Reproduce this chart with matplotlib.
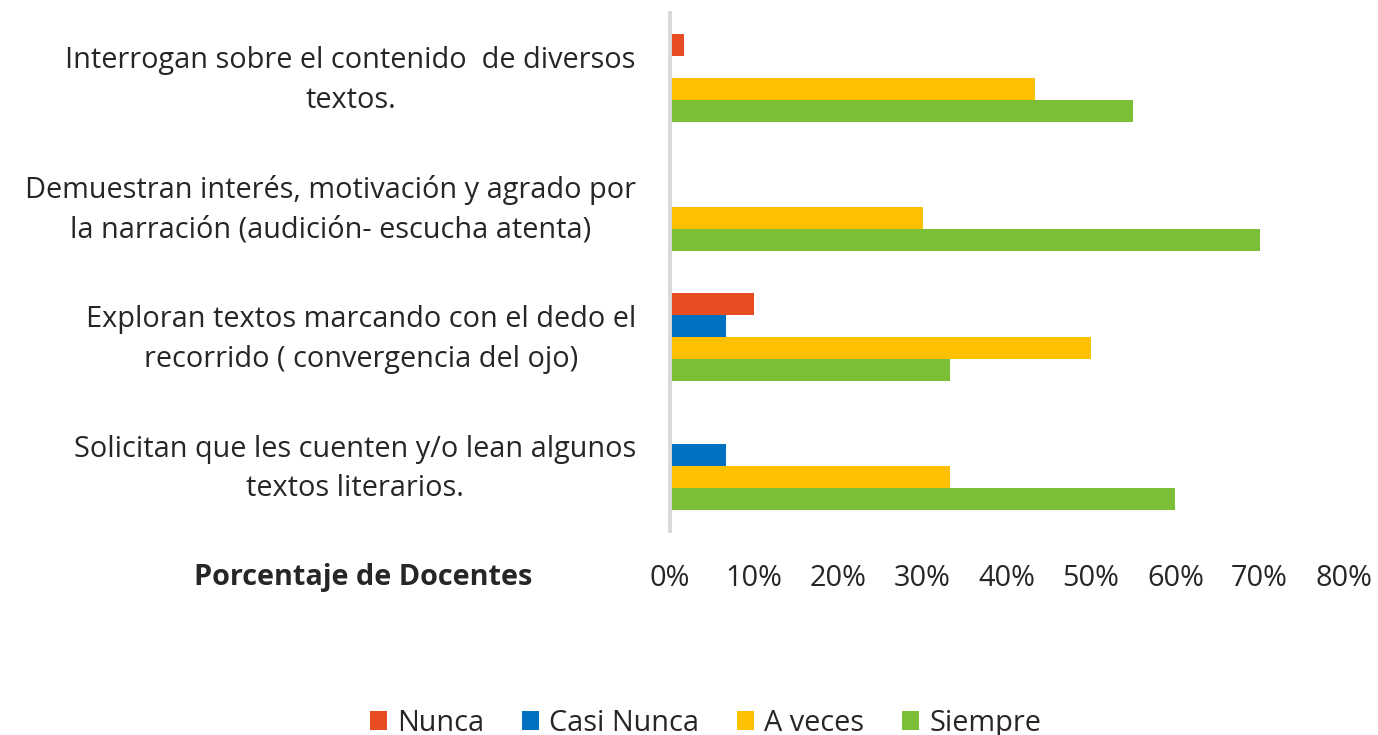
import matplotlib
matplotlib.use("Agg")
import matplotlib.pyplot as plt
import matplotlib.transforms as mtrans
import numpy as np
from matplotlib.ticker import FuncFormatter

categories = [
    "Interrogan sobre el contenido  de diversos\ntextos.",
    "Demuestran interés, motivación y agrado por\nla narración (audición- escucha atenta)",
    "Exploran textos marcando con el dedo el\nrecorrido ( convergencia del ojo)",
    "Solicitan que les cuenten y/o lean algunos\ntextos literarios.",
]
series_names = ["Nunca", "Casi Nunca", "A veces", "Siempre"]
nunca = [1.7, 0.0, 10.0, 0.0]
casi_nunca = [0.0, 0.0, 6.7, 6.7]
a_veces = [43.3, 30.0, 50.0, 33.3]
siempre = [55.0, 70.0, 33.3, 60.0]
colors = ["#E84C22", "#0070C0", "#FFC000", "#7BBF36"]
xticks = [0, 10, 20, 30, 40, 50, 60, 70, 80]

plt.rcParams['font.family'] = ['Open Sans', 'DejaVu Sans']
FS = 20.8

fig = plt.figure(figsize=(13.78, 7.35), dpi=100)
ax = fig.add_axes([669.8/1378, 1 - 531/735, (1344 - 669.8)/1378, (531 - 13)/735])

n = len(categories)
ypos = np.arange(n)[::-1]  # first category at top
bar_h = 22/129
data = [nunca, casi_nunca, a_veces, siempre]
for i, (name, vals, c) in enumerate(zip(series_names, data, colors)):
    offset = (1.5 - i) * bar_h
    ax.barh(ypos + offset, vals, height=bar_h, color=c, label=name,
            edgecolor='none')

ax.set_xlim(0, 80)
ax.set_ylim(-0.5, n - 0.5)
ax.set_xticks(xticks)
ax.xaxis.set_major_formatter(FuncFormatter(lambda v, p: f"{int(v)}%"))
ax.set_yticks(ypos)
ax.set_yticklabels(categories, multialignment='center', linespacing=1.48)
ax.tick_params(axis='y', length=0, pad=24.5, labelsize=FS, labelcolor='#262626')
ax.tick_params(axis='x', length=0, pad=24, labelsize=FS, labelcolor='#262626')
shift = mtrans.ScaledTranslation(0, 6/100, fig.dpi_scale_trans)
for lab in ax.get_yticklabels():
    lab.set_transform(lab.get_transform() + shift)

for s in ['top', 'right', 'bottom']:
    ax.spines[s].set_visible(False)
ax.spines['left'].set_color('#D9D9D9')
ax.spines['left'].set_linewidth(2.8)

fig.text(363/1378, 1 - 577/735, "Porcentaje de Docentes", fontsize=FS,
         fontweight='bold', ha='center', va='center', color='#262626')

leg = fig.legend(loc='center', bbox_to_anchor=(0.512, 0.016), ncol=4,
                 frameon=False, fontsize=FS, handlelength=0.6, handleheight=0.6,
                 handletextpad=0.35, columnspacing=1.3)
for t in leg.get_texts():
    t.set_color('#262626')

fig.savefig("out.png", dpi=100, facecolor='white')
